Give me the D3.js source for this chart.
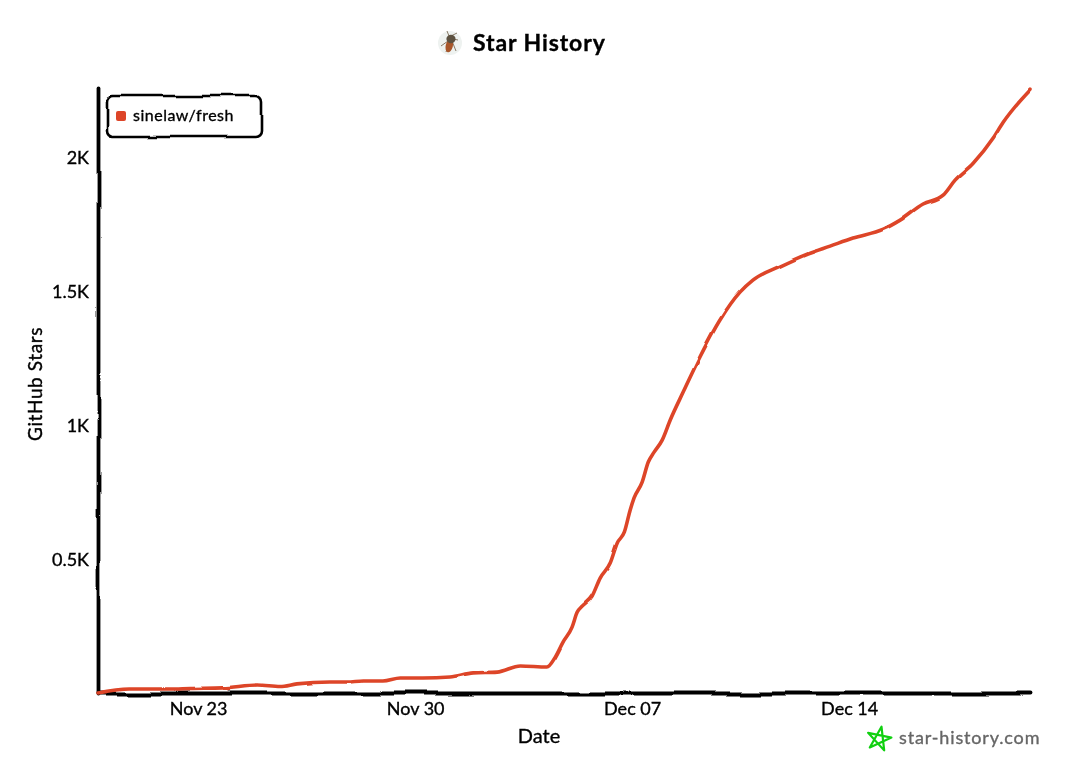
<!DOCTYPE html>
<html>
<head>
<meta charset="utf-8">
<script src="https://cdn.jsdelivr.net/npm/d3@7"></script>
<style>
  html, body { margin: 0; background: #fff; }
  text { font-family: "Lato", "Open Sans", sans-serif; fill: #000; stroke: #000; stroke-width: 0.35px; }
</style>
</head>
<body>
<div id="chart"></div>
<script>
var seriesName = "sinelaw/fresh";
var dates = [
  "2025-11-19T18:30", "2025-11-20T19:30", "2025-11-22T02:00", "2025-11-22T18:00", "2025-11-23T19:00",
  "2025-11-24T22:00", "2025-11-25T15:30", "2025-11-26T04:30", "2025-11-27T06:00", "2025-11-27T19:30",
  "2025-11-28T08:00", "2025-11-28T23:00", "2025-11-29T12:30", "2025-11-30T06:00", "2025-12-01T03:00",
  "2025-12-01T21:00", "2025-12-02T15:30", "2025-12-03T09:30", "2025-12-04T06:00", "2025-12-04T12:30",
  "2025-12-04T18:30", "2025-12-05T01:30", "2025-12-05T05:30", "2025-12-05T09:30", "2025-12-05T17:00",
  "2025-12-05T23:15", "2025-12-06T07:00", "2025-12-06T12:30", "2025-12-06T18:00", "2025-12-06T22:30",
  "2025-12-07T01:30", "2025-12-07T07:45", "2025-12-07T12:30", "2025-12-07T17:00", "2025-12-07T23:15",
  "2025-12-08T05:30", "2025-12-08T15:30", "2025-12-09T04:30", "2025-12-09T20:00", "2025-12-10T11:30",
  "2025-12-10T21:30", "2025-12-11T18:30", "2025-12-12T15:30", "2025-12-13T09:15", "2025-12-14T03:00",
  "2025-12-15T02:30", "2025-12-15T15:30", "2025-12-16T09:15", "2025-12-17T00:45", "2025-12-17T10:00",
  "2025-12-18T00:00", "2025-12-18T15:30", "2025-12-18T23:15", "2025-12-19T20:00"
];
var stars = [
  0, 15, 15, 17, 19,
  30, 24, 34, 41, 41,
  45, 45, 56, 56, 60,
  75, 78, 101, 97, 134,
  190, 246, 302, 325, 362,
  429, 485, 560, 601, 683,
  728, 787, 862, 899, 944,
  1019, 1123, 1254, 1392, 1496,
  1541, 1593, 1638, 1668, 1698,
  1731, 1765, 1825, 1858, 1914,
  1977, 2071, 2130, 2250
];
var xTickDates = ["2025-11-23", "2025-11-30", "2025-12-07", "2025-12-14"];
var xTickLabels = ["Nov 23", "Nov 30", "Dec 07", "Dec 14"];
var yTicks = [500, 1000, 1500, 2000];
var yTickLabels = ["0.5K", "1K", "1.5K", "2K"];

var width = 1080, height = 781;
var margin = { top: 88, right: 50, bottom: 88, left: 98 };
var lineColor = "#dd4528";
var parseTime = d3.isoParse;

var data = dates.map(function (d, i) {
  return { date: parseTime(d), stars: stars[i] };
});

var x = d3.scaleTime()
  .domain([parseTime(dates[0]), parseTime(dates[dates.length - 1])])
  .range([margin.left, width - margin.right]);
var y = d3.scaleLinear()
  .domain([0, 2258])
  .range([height - margin.bottom, margin.top]);

var svg = d3.select("#chart").append("svg")
  .attr("width", width)
  .attr("height", height)
  .style("display", "block");

// wobble for the hand drawn look
var defs = svg.append("defs");
function addSketch(id, freq, octaves, scale, seed) {
  var f = defs.append("filter")
    .attr("id", id)
    .attr("filterUnits", "userSpaceOnUse")
    .attr("color-interpolation-filters", "sRGB")
    .attr("x", -width).attr("y", -height)
    .attr("width", width * 3).attr("height", height * 3);
  f.append("feTurbulence")
    .attr("type", "fractalNoise")
    .attr("baseFrequency", freq)
    .attr("numOctaves", octaves)
    .attr("seed", seed)
    .attr("result", "noise");
  f.append("feDisplacementMap")
    .attr("in", "SourceGraphic")
    .attr("in2", "noise")
    .attr("scale", scale)
    .attr("xChannelSelector", "R")
    .attr("yChannelSelector", "G");
}
addSketch("rough-axis", 0.018, 1, 9, 4);
addSketch("rough-box", 0.025, 1, 7, 9);
addSketch("rough-line", 0.04, 1, 2.5, 2);
addSketch("rough-text", 0.08, 1, 1.2, 7);

// axes
var xAxis = d3.axisBottom(x)
  .tickValues(xTickDates.map(parseTime))
  .tickSize(0)
  .tickPadding(0)
  .tickFormat(function (d, i) { return xTickLabels[i]; });
var yAxis = d3.axisLeft(y)
  .tickValues(yTicks)
  .tickSize(0)
  .tickPadding(0)
  .tickFormat(function (d, i) { return yTickLabels[i]; });

var gx = svg.append("g")
  .attr("transform", "translate(0," + (height - margin.bottom) + ")")
  .call(xAxis);
var gy = svg.append("g")
  .attr("transform", "translate(" + margin.left + ",0)")
  .call(yAxis);

[gx, gy].forEach(function (g) {
  g.select(".domain")
    .attr("stroke", "#000")
    .attr("stroke-width", 3.8)
    .attr("stroke-linecap", "round")
    .attr("filter", "url(#rough-axis)");
  g.selectAll("text")
    .attr("font-size", 18)
    .attr("filter", "url(#rough-text)");
});
gx.selectAll("text").attr("dy", "0").attr("y", 22);
gy.selectAll("text").attr("x", -9).attr("dy", "0.36em");

// the series
var line = d3.line()
  .x(function (d) { return x(d.date); })
  .y(function (d) { return y(d.stars); })
  .curve(d3.curveMonotoneX);

svg.append("path")
  .datum(data)
  .attr("fill", "none")
  .attr("stroke", lineColor)
  .attr("stroke-width", 3.6)
  .attr("stroke-linecap", "round")
  .attr("stroke-linejoin", "round")
  .attr("filter", "url(#rough-line)")
  .attr("d", line);

// axis titles
svg.append("text")
  .attr("x", 539).attr("y", 743)
  .attr("text-anchor", "middle")
  .attr("font-size", 20)
  .attr("filter", "url(#rough-text)")
  .text("Date");
svg.append("text")
  .attr("transform", "translate(42,384) rotate(-90)")
  .attr("text-anchor", "middle")
  .attr("font-size", 19)
  .attr("letter-spacing", 0.6)
  .attr("filter", "url(#rough-text)")
  .text("GitHub Stars");

// title with the little bug icon
svg.append("text")
  .attr("x", 473).attr("y", 51)
  .attr("font-size", 23)
  .attr("font-weight", 700)
  .attr("letter-spacing", 0.9)
  .attr("filter", "url(#rough-text)")
  .text("Star History");

var bug = svg.append("g").attr("transform", "translate(450,43)");
bug.append("circle").attr("r", 12).attr("fill", "#eef2f0");
bug.append("g").attr("stroke", "#7a6a55").attr("stroke-width", 0.9)
  .selectAll("path")
  .data(["M-2,-2L-9,3", "M2,-2L6,8", "M-1,-7L-3,-12", "M1,-7L7,-10", "M3,-4L8,-3", "M-2,3L-4,9"])
  .enter().append("path")
  .attr("d", function (d) { return d; });
bug.append("ellipse")
  .attr("cx", 0).attr("cy", 3).attr("rx", 3.6).attr("ry", 6.5)
  .attr("transform", "rotate(14)")
  .attr("fill", "#a8562a");
bug.append("ellipse")
  .attr("cx", 1).attr("cy", -4).attr("rx", 4.6).attr("ry", 4.2)
  .attr("fill", "#5c5140");

// legend
var legend = svg.append("g");
legend.append("rect")
  .attr("x", 107).attr("y", 96)
  .attr("width", 155).attr("height", 41)
  .attr("rx", 6)
  .attr("fill", "#fff")
  .attr("stroke", "#000")
  .attr("stroke-width", 2.6)
  .attr("filter", "url(#rough-box)");
legend.append("rect")
  .attr("x", 116).attr("y", 111)
  .attr("width", 10).attr("height", 10)
  .attr("rx", 2)
  .attr("fill", lineColor);
legend.append("text")
  .attr("x", 133).attr("y", 121)
  .attr("font-size", 16)
  .attr("letter-spacing", 0.5)
  .attr("filter", "url(#rough-text)")
  .text(seriesName);

// watermark
var starRadius = d3.lineRadial()
  .angle(function (d) { return d * 4 * Math.PI / 5 + 0.2; })
  .radius(12.5)
  .curve(d3.curveLinearClosed);
svg.append("path")
  .attr("transform", "translate(879,739)")
  .attr("d", starRadius(d3.range(5)))
  .attr("fill", "none")
  .attr("stroke", "#10d010")
  .attr("stroke-width", 2.2)
  .attr("stroke-linejoin", "round");
svg.append("text")
  .attr("x", 899).attr("y", 744)
  .attr("font-size", 18)
  .attr("letter-spacing", 0.85)
  .style("fill", "#666")
  .style("stroke", "#666")
  .attr("filter", "url(#rough-text)")
  .text("star-history.com");
</script>
</body>
</html>
